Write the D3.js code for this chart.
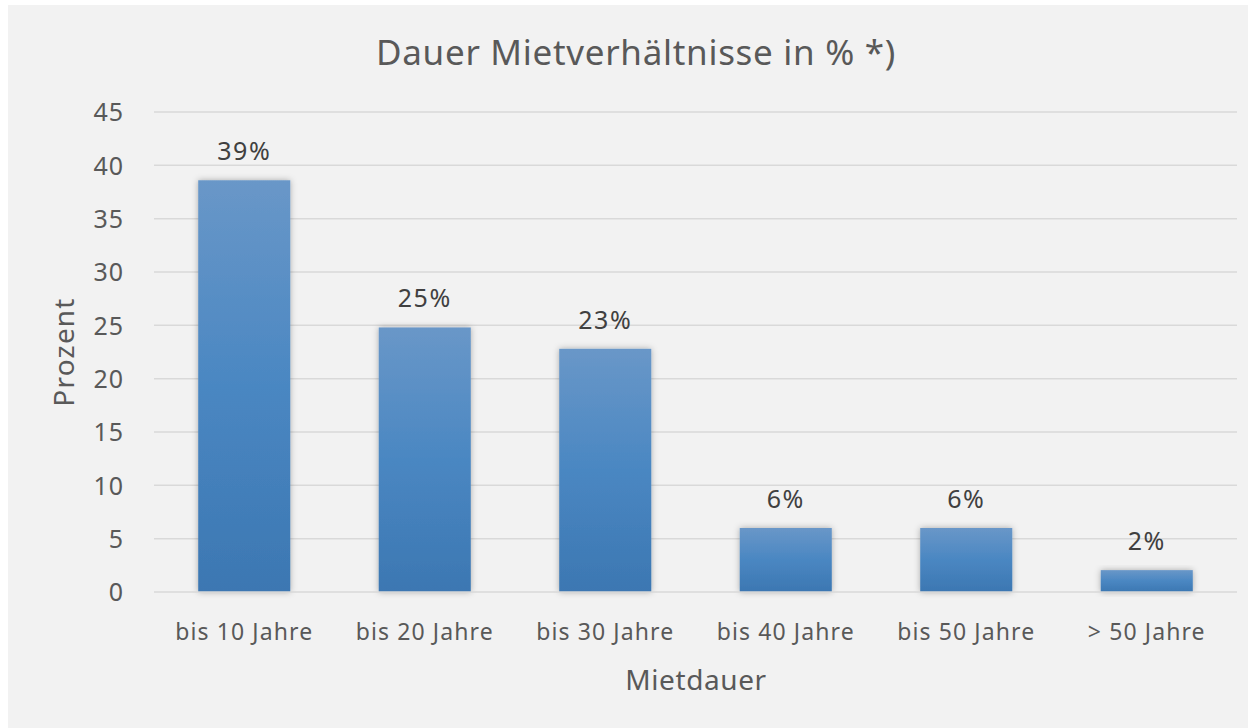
<!DOCTYPE html>
<html><head><meta charset="utf-8">
<script src="https://cdn.jsdelivr.net/npm/d3@7"></script>
<style>
html,body{margin:0;padding:0;background:#fff;}
svg{display:block;}
text{font-family:"Noto Sans",sans-serif;}
</style></head>
<body>
<svg id="chart" width="1248" height="728"></svg>
<script>
const categories = ["bis 10 Jahre","bis 20 Jahre","bis 30 Jahre","bis 40 Jahre","bis 50 Jahre","> 50 Jahre"];
const values = [38.6, 24.8, 22.8, 6.0, 6.0, 2.05];
const valueLabels = ["39%","25%","23%","6%","6%","2%"];
const yTicks = [0,5,10,15,20,25,30,35,40,45];
const title = "Dauer Mietverhältnisse in % *)";
const xTitle = "Mietdauer";
const yTitle = "Prozent";

const svg = d3.select("#chart");
svg.append("rect").attr("x",8).attr("y",5).attr("width",1240).attr("height",723).attr("fill","#f2f2f2");

const defs = svg.append("defs");
const grad = defs.append("linearGradient").attr("id","barGrad").attr("x1",0).attr("y1",0).attr("x2",0).attr("y2",1);
grad.append("stop").attr("offset","0%").attr("stop-color","#6997c8");
grad.append("stop").attr("offset","50%").attr("stop-color","#4a87c2");
grad.append("stop").attr("offset","100%").attr("stop-color","#3c77b2");
const f = defs.append("filter").attr("id","shadow").attr("x","-20%").attr("y","-20%").attr("width","140%").attr("height","140%");
f.append("feDropShadow").attr("dx",0).attr("dy",0).attr("stdDeviation",3).attr("flood-color","#000").attr("flood-opacity",0.3);

const x = d3.scaleBand().domain(categories).range([154,1237]).paddingInner(0.49).paddingOuter(0.245);
const y = d3.scaleLinear().domain([0,45]).range([592,112]);

// gridlines
svg.append("g").selectAll("line").data(yTicks.filter(d=>d>0)).join("line")
  .attr("x1",154).attr("x2",1237).attr("y1",d=>y(d)).attr("y2",d=>y(d))
  .attr("stroke","#d9d9d9").attr("stroke-width",1.5);

// y axis labels
const yAxis = d3.axisLeft(y).tickValues(yTicks).tickSize(0).tickPadding(0);
const gy = svg.append("g").attr("transform","translate(124,0)").call(yAxis);
gy.select(".domain").remove();
gy.selectAll("text").attr("font-size",25).attr("fill","#595959").attr("dy","0.35em")
  .style("letter-spacing","1px").style("font-family",'"Noto Sans",sans-serif');

// bars
svg.append("g").selectAll("rect").data(values).join("rect")
  .attr("x",(d,i)=>x(categories[i])).attr("width",x.bandwidth())
  .attr("y",d=>y(d)).attr("height",d=>y(0)-y(d))
  .attr("fill","url(#barGrad)").attr("filter","url(#shadow)");

// baseline
svg.append("line").attr("x1",154).attr("x2",1237).attr("y1",y(0)).attr("y2",y(0))
  .attr("stroke","#d9d9d9").attr("stroke-width",1.5);

// value labels
svg.append("g").selectAll("text").data(values).join("text")
  .attr("x",(d,i)=>x(categories[i])+x.bandwidth()/2).attr("y",d=>y(d)-20)
  .attr("text-anchor","middle").attr("font-size",25).attr("fill","#404040")
  .style("letter-spacing","1.5px")
  .text((d,i)=>valueLabels[i]);

// x axis labels
const xAxis = d3.axisBottom(x).tickSize(0).tickPadding(0);
const gx = svg.append("g").attr("transform","translate(0,640)").call(xAxis);
gx.select(".domain").remove();
gx.selectAll("text").attr("font-size",23).attr("fill","#595959").attr("dy",0)
  .style("letter-spacing","1.1px").style("font-family",'"Noto Sans",sans-serif');

// titles
svg.append("text").attr("x",636).attr("y",65).attr("text-anchor","middle")
  .attr("font-size",35).attr("fill","#595959").style("letter-spacing","0.7px").text(title);
svg.append("text").attr("x",696).attr("y",690).attr("text-anchor","middle")
  .attr("font-size",28).attr("fill","#595959").style("letter-spacing","0.6px").text(xTitle);
svg.append("text").attr("transform","translate(74,352) rotate(-90)").attr("text-anchor","middle")
  .attr("font-size",28).attr("fill","#595959").style("letter-spacing","1.2px").text(yTitle);
</script>
</body></html>
